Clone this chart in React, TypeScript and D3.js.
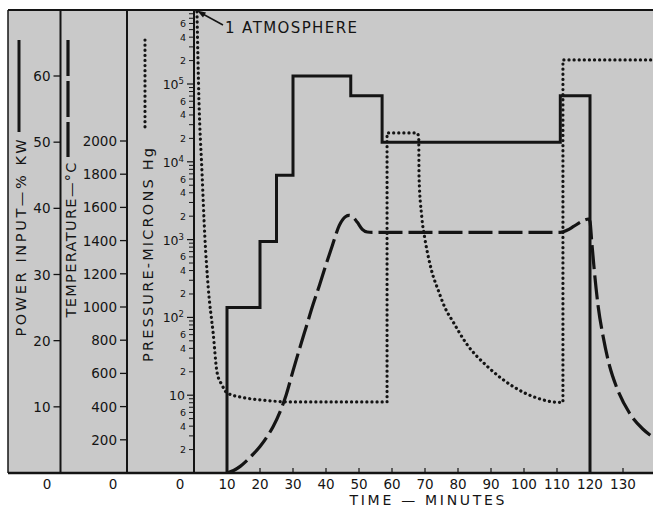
import React from 'react';
import * as d3 from 'd3';

// ---- data ----
const timeTicks = [10, 20, 30, 40, 50, 60, 70, 80, 90, 100, 110, 120, 130];
const powerTicks = [10, 20, 30, 40, 50, 60];
const tempTicks = [200, 400, 600, 800, 1000, 1200, 1400, 1600, 1800, 2000];
const pressureDecades = [1, 10, 100, 1000, 10000, 100000];
const pressureMinorLabels = [2, 4, 6];

const powerStepTimes = [10, 20, 25, 30, 47.5, 57, 111];
const powerStepValues = [25, 35, 45, 60, 57, 50, 57];
const powerEndTime = 120;

const tempTimes = [10, 12, 14, 16, 18, 20, 22, 24, 26, 28, 30, 32, 34, 36, 38, 40, 42, 44, 46, 47, 48, 49.5, 51, 52.5, 54, 60, 80, 100, 111, 113, 115, 117, 118.5, 119.5, 120, 120.5, 121.3, 122.5, 124, 126, 128, 132, 136, 140];
const tempValues = [0, 15, 40, 75, 115, 160, 215, 280, 365, 475, 615, 750, 880, 1010, 1130, 1255, 1375, 1490, 1545, 1552, 1545, 1510, 1468, 1452, 1450, 1450, 1450, 1450, 1450, 1462, 1485, 1510, 1525, 1530, 1515, 1400, 1220, 1000, 820, 640, 520, 360, 265, 205];

const pressureTimes = [0.9, 1.5, 2.4, 3.3, 4.3, 5.8, 7, 8.5, 10, 15, 20, 30, 58.5, 58.5, 67.5, 68.1, 68.2, 69, 70, 71, 72, 74, 76, 78.7, 82.4, 89.1, 97, 104.3, 110.3, 111.8, 111.8, 140];
const pressureValues = [850000, 62000, 7800, 1070, 245, 63, 19.5, 13.5, 10.7, 9.3, 8.7, 8.2, 8.2, 23500, 23500, 21000, 6300, 1995, 1000, 603, 398, 224, 135, 85, 47, 23, 12.7, 9.1, 8.1, 8.1, 204000, 204000];

const timeLabel = 'TIME  —  MINUTES';
const powerTitle = 'POWER INPUT—%  KW';
const tempTitle = 'TEMPERATURE—°C';
const pressureTitle = 'PRESSURE-MICRONS  Hg';
const atmLabel = '1 ATMOSPHERE';

// ---- layout ----
const W = 653;
const H = 510;
const LEFT = 8;
const TOP = 10;
const BOTTOM = 473;
const AX_POW = 60.5;
const AX_TEMP = 127;
const AX_PRES = 194;
const FONT = '"DejaVu Sans", "Liberation Sans", sans-serif';
const INK = '#141414';

const x = d3.scaleLinear().domain([0, 140]).range([AX_PRES, AX_PRES + 140 * 3.3]);
const yPow = d3.scaleLinear().domain([0, 60]).range([BOTTOM, 76]);
const yTemp = d3.scaleLinear().domain([0, 2000]).range([BOTTOM, 141]);
const yPres = d3.scaleLog().domain([1, 100000]).range([BOTTOM, 84]);

function piecewisePath(times: number[], vals: number[], ys: (v: number) => number): string {
  const pts: [number, number][] = times.map((t, i) => [t, vals[i]]);
  const groups: [number, number][][] = [];
  let cur: [number, number][] = [pts[0]];
  for (let i = 1; i < pts.length; i++) {
    if (pts[i][0] === pts[i - 1][0]) {
      groups.push(cur);
      cur = [pts[i]];
    } else cur.push(pts[i]);
  }
  groups.push(cur);
  const gen = d3
    .line<[number, number]>()
    .x((d) => x(d[0]))
    .y((d) => ys(d[1]))
    .curve(d3.curveMonotoneX);
  return groups
    .map((g, k) => {
      const d = gen(g) || '';
      return k > 0 ? 'L' + d.slice(1) : d;
    })
    .join('');
}

export default function App() {
  const powerPts: [number, number][] = [[powerStepTimes[0], 0]];
  powerStepTimes.forEach((t, i) => powerPts.push([t, powerStepValues[i]]));
  powerPts.push([powerEndTime, 0]);
  const powerPath =
    d3
      .line<[number, number]>()
      .x((d) => x(d[0]))
      .y((d) => yPow(d[1]))
      .curve(d3.curveStepAfter)(powerPts) || '';

  const tempPath =
    d3
      .line<[number, number]>()
      .x((d) => x(d[0]))
      .y((d) => yTemp(d[1]))
      .curve(d3.curveMonotoneX)(tempTimes.map((t, i) => [t, tempValues[i]] as [number, number])) || '';

  const presPath = piecewisePath(pressureTimes, pressureValues, (v) => yPres(v));

  const presMinor: number[] = [];
  pressureDecades.forEach((d) => {
    for (let m = 2; m <= 9; m++) {
      const v = m * d;
      if (yPres(v) > TOP + 2) presMinor.push(v);
    }
  });

  return (
    <svg
      width={W}
      height={H}
      style={{ position: 'absolute', left: 0, top: 0, display: 'block', background: '#fff' }}
      fontFamily={FONT}
    >
      <defs>
        <clipPath id="plotClip">
          <rect x={AX_PRES} y={TOP} width={W - AX_PRES} height={BOTTOM - TOP} />
        </clipPath>
      </defs>
      <rect x={LEFT} y={TOP} width={W - LEFT} height={BOTTOM - TOP} fill="#c9c9c9" />
      <line x1={LEFT} x2={W} y1={TOP} y2={TOP} stroke={INK} strokeWidth={2} />
      <line x1={LEFT} x2={LEFT} y1={TOP} y2={BOTTOM} stroke={INK} strokeWidth={1.5} />
      <line x1={LEFT} x2={W} y1={BOTTOM} y2={BOTTOM} stroke={INK} strokeWidth={2.5} />
      {[AX_POW, AX_TEMP, AX_PRES].map((ax) => (
        <line key={ax} x1={ax} x2={ax} y1={TOP} y2={BOTTOM} stroke={INK} strokeWidth={2} />
      ))}

      {powerTicks.map((v) => (
        <g key={'p' + v}>
          <line x1={AX_POW - 7} x2={AX_POW} y1={yPow(v)} y2={yPow(v)} stroke={INK} strokeWidth={1.3} />
          <text x={AX_POW - 10} y={yPow(v) + 5} fontSize={13.5} textAnchor="end" fill={INK}>
            {v}
          </text>
        </g>
      ))}
      {tempTicks.map((v) => (
        <g key={'t' + v}>
          <line x1={AX_TEMP - 7} x2={AX_TEMP} y1={yTemp(v)} y2={yTemp(v)} stroke={INK} strokeWidth={1.3} />
          <text x={AX_TEMP - 10} y={yTemp(v) + 5} fontSize={13.5} textAnchor="end" fill={INK}>
            {v}
          </text>
        </g>
      ))}
      {presMinor.map((v) => (
        <line key={'pm' + v} x1={AX_PRES - 5} x2={AX_PRES} y1={yPres(v)} y2={yPres(v)} stroke={INK} strokeWidth={1} />
      ))}
      {pressureDecades.map((d) => {
        const e = Math.round(Math.log10(d));
        return (
          <g key={'pd' + d}>
            {e > 0 && (
              <line x1={AX_PRES - 7} x2={AX_PRES} y1={yPres(d)} y2={yPres(d)} stroke={INK} strokeWidth={1.2} />
            )}
            {e === 1 && (
              <text x={AX_PRES - 9} y={yPres(d) + 5} fontSize={12.5} textAnchor="end" fill={INK}>
                10
              </text>
            )}
            {e > 1 && (
              <text x={AX_PRES - 10} y={yPres(d) + 5} fontSize={12.5} textAnchor="end" fill={INK}>
                10
                <tspan fontSize={8.5} dy={-5}>
                  {e}
                </tspan>
              </text>
            )}
            {pressureMinorLabels.map((m) => (
              <text key={m} x={AX_PRES - 8} y={yPres(m * d) + 3.5} fontSize={9.5} textAnchor="end" fill={INK}>
                {m}
              </text>
            ))}
          </g>
        );
      })}

      {timeTicks.map((t) => (
        <g key={'x' + t}>
          <line x1={x(t)} x2={x(t)} y1={BOTTOM} y2={BOTTOM - 5} stroke={INK} strokeWidth={1.2} />
          <text x={x(t)} y={489} fontSize={13.5} textAnchor="middle" fill={INK}>
            {t}
          </text>
        </g>
      ))}
      {[47, 113, 180].map((cx) => (
        <text key={'z' + cx} x={cx} y={489} fontSize={13.5} textAnchor="middle" fill={INK}>
          0
        </text>
      ))}
      <text x={427} y={505} fontSize={14} textAnchor="middle" fill={INK} textLength={155} lengthAdjust="spacing">
        {timeLabel}
      </text>

      <text transform="translate(25.5,238) rotate(-90)" fontSize={14.5} textAnchor="middle" fill={INK} textLength={197} lengthAdjust="spacing">
        {powerTitle}
      </text>
      <text transform="translate(75.5,240) rotate(-90)" fontSize={14.5} textAnchor="middle" fill={INK} textLength={155} lengthAdjust="spacing">
        {tempTitle}
      </text>
      <text transform="translate(152.5,255) rotate(-90)" fontSize={14.5} textAnchor="middle" fill={INK} textLength={214} lengthAdjust="spacing">
        {pressureTitle}
      </text>

      <line x1={19} x2={19} y1={40} y2={132} stroke={INK} strokeWidth={3} />
      <line x1={68} x2={68} y1={40} y2={157} stroke={INK} strokeWidth={3.2} strokeDasharray="36 5" />
      <line x1={145} x2={145} y1={40} y2={129} stroke={INK} strokeWidth={3.2} strokeLinecap="round" strokeDasharray="0.1 5" />

      <g clipPath="url(#plotClip)">
        <path d={presPath} fill="none" stroke={INK} strokeWidth={3.2} strokeLinecap="round" strokeDasharray="0.1 5" />
        <path d={tempPath} fill="none" stroke={INK} strokeWidth={3.2} strokeDasharray="24 6" />
        <path d={powerPath} fill="none" stroke={INK} strokeWidth={3} strokeLinejoin="miter" />
      </g>

      <line x1={223} y1={25} x2={201} y2={13} stroke={INK} strokeWidth={1.5} />
      <path d="M197,10.5 L206,12.5 L203,17.5 Z" fill={INK} />
      <text x={225} y={33} fontSize={15} fill={INK} textLength={132} lengthAdjust="spacing">
        {atmLabel}
      </text>
    </svg>
  );
}
